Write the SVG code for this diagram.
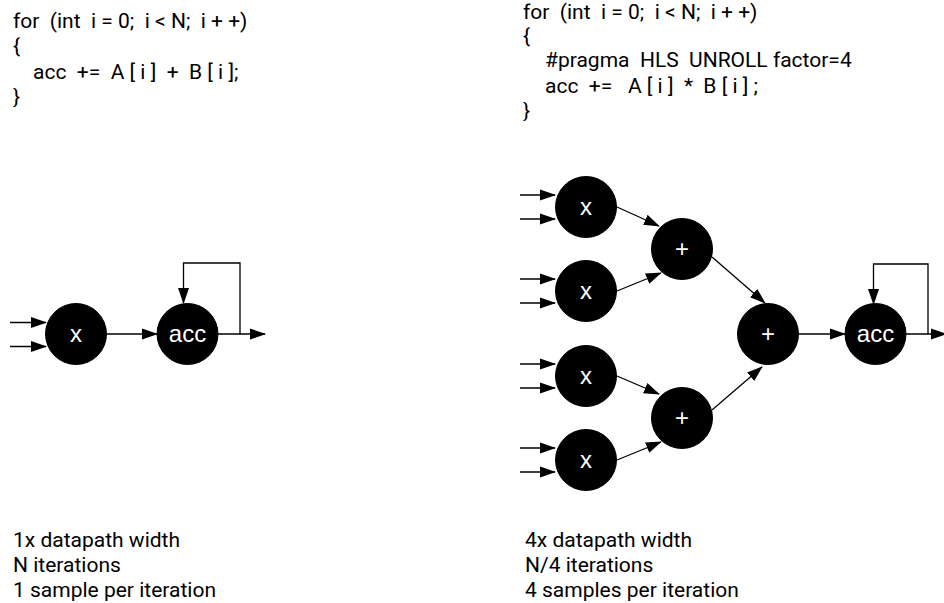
<svg xmlns="http://www.w3.org/2000/svg" width="944" height="603" viewBox="0 0 944 603">
<defs>
<style>
.code{font-family:Roboto,"Liberation Sans",sans-serif;font-size:21px;fill:#000;white-space:pre}
.note{font-family:Roboto,"Liberation Sans",sans-serif;font-size:21px;fill:#000}
.node circle{fill:#000;stroke:#000}
.node text{font-family:"Liberation Sans",Arial,sans-serif;font-size:24px;fill:#fff;text-anchor:middle}
.edge{stroke:#000;stroke-width:1.3;fill:none;marker-end:url(#ah)}
</style>
<marker id="ah" viewBox="0 0 16 12" refX="15" refY="6" markerWidth="16" markerHeight="12" markerUnits="userSpaceOnUse" orient="auto">
<path d="M0,0.5 L16,6 L0,11.5 z" fill="#000"/>
</marker>
</defs>
<rect width="944" height="603" fill="#fff"/>

<g id="code-left">
<text class="code" x="13" y="28" xml:space="preserve">for  (int  i = 0;  i &lt; N;  i + +)</text>
<text class="code" x="13" y="53" xml:space="preserve">{</text>
<text class="code" x="33" y="79" xml:space="preserve">acc  +=  A [ i ]  +  B [ i ];</text>
<text class="code" x="13" y="104" xml:space="preserve">}</text>
</g>
<g id="code-right">
<text class="code" x="523" y="19" xml:space="preserve">for  (int  i = 0;  i &lt; N;  i + +)</text>
<text class="code" x="523" y="43" xml:space="preserve">{</text>
<text class="code" x="545" y="67" xml:space="preserve">#pragma  HLS  UNROLL factor=4</text>
<text class="code" x="545" y="93" xml:space="preserve">acc  +=   A [ i ]  *  B [ i ] ;</text>
<text class="code" x="523" y="118" xml:space="preserve">}</text>
</g>

<g id="connectors">
<line class="edge" x1="10" y1="322.5" x2="46" y2="322.5"/>
<line class="edge" x1="10" y1="346.5" x2="46" y2="346.5"/>
<line class="edge" x1="107" y1="334" x2="157" y2="334"/>
<line class="edge" x1="218" y1="334" x2="265" y2="334"/>
<polyline class="edge" points="240,334 240,263 183.5,263 183.5,303"/>
<line class="edge" x1="520" y1="195" x2="555" y2="195"/>
<line class="edge" x1="520" y1="219" x2="555" y2="219"/>
<line class="edge" x1="520" y1="279" x2="555" y2="279"/>
<line class="edge" x1="520" y1="303" x2="555" y2="303"/>
<line class="edge" x1="520" y1="364" x2="555" y2="364"/>
<line class="edge" x1="520" y1="388" x2="555" y2="388"/>
<line class="edge" x1="520" y1="448" x2="555" y2="448"/>
<line class="edge" x1="520" y1="472" x2="555" y2="472"/>
<line class="edge" x1="617" y1="207" x2="659" y2="226"/>
<line class="edge" x1="617" y1="291" x2="661" y2="273"/>
<line class="edge" x1="617" y1="376" x2="659" y2="394"/>
<line class="edge" x1="617" y1="460" x2="661" y2="442"/>
<line class="edge" x1="712" y1="257" x2="765" y2="303"/>
<line class="edge" x1="712" y1="410" x2="762" y2="367"/>
<line class="edge" x1="798" y1="334" x2="845" y2="334"/>
<line class="edge" x1="905" y1="334" x2="946" y2="334"/>
<polyline class="edge" points="928,334 928,264 873.5,264 873.5,304"/>
</g>

<g id="n-mul-l" class="node"><circle cx="76" cy="334" r="30.5"/><text x="76" y="342">x</text></g>
<g id="n-acc-l" class="node"><circle cx="187.5" cy="334" r="30.5"/><text x="187.5" y="342">acc</text></g>

<g id="n-mul-1" class="node"><circle cx="586" cy="207" r="30.5"/><text x="586" y="215">x</text></g>
<g id="n-mul-2" class="node"><circle cx="586" cy="291" r="30.5"/><text x="586" y="299">x</text></g>
<g id="n-mul-3" class="node"><circle cx="586" cy="376" r="30.5"/><text x="586" y="384">x</text></g>
<g id="n-mul-4" class="node"><circle cx="586" cy="460" r="30.5"/><text x="586" y="468">x</text></g>
<g id="n-add-1" class="node"><circle cx="682" cy="249" r="30.5"/><text x="682" y="257">+</text></g>
<g id="n-add-2" class="node"><circle cx="682" cy="418" r="30.5"/><text x="682" y="426">+</text></g>
<g id="n-add-3" class="node"><circle cx="768" cy="334" r="30.5"/><text x="768" y="342">+</text></g>
<g id="n-acc-r" class="node"><circle cx="875.5" cy="334" r="30.5"/><text x="875.5" y="342">acc</text></g>

<g id="notes-left">
<text class="note" x="13" y="547">1x datapath width</text>
<text class="note" x="13" y="572">N iterations</text>
<text class="note" x="13" y="597">1 sample per iteration</text>
</g>
<g id="notes-right">
<text class="note" x="525" y="547">4x datapath width</text>
<text class="note" x="525" y="572">N/4 iterations</text>
<text class="note" x="525" y="597">4 samples per iteration</text>
</g>
</svg>
